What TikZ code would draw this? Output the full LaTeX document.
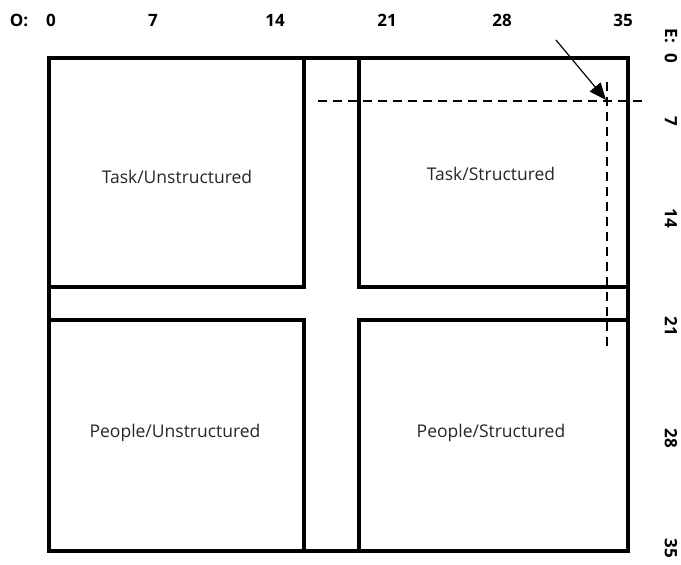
\documentclass[tikz,border=0pt]{standalone}
\usepackage{fontspec}
\setmainfont{Open Sans}
\usetikzlibrary{arrows.meta}
\tikzset{
  frame/.style={line width=4pt, line join=miter},
  quadlabel/.style={font=\fontsize{17.5}{20}\selectfont, text=black!85, inner sep=0pt},
  scalelabel/.style={font=\bfseries\fontsize{17}{20}\selectfont, inner sep=0pt},
  guide/.style={line width=2pt, dash pattern=on 9pt off 6pt},
  pointer/.style={line width=1.2pt, -{Triangle[length=17pt,width=14pt]}}
}
\begin{document}
\begin{tikzpicture}[x=1pt,y=-1pt]
\useasboundingbox (0,0) rectangle (681,565);
% outer frame
\draw[frame] (49,58) rectangle (628,551);
% quadrants
\draw[frame] (49,58) rectangle (304,287);
\draw[frame] (359,58) rectangle (628,287);
\draw[frame] (49,320) rectangle (304,551);
\draw[frame] (359,320) rectangle (628,551);
% quadrant labels
\node[quadlabel] (tu) at (177,177) {Task/Unstructured};
\node[quadlabel] (ts) at (491,174) {Task/Structured};
\node[quadlabel] (pu) at (175,433) {People/Unstructured};
\node[quadlabel] (ps) at (491,433) {People/Structured};
% top scale
\node[scalelabel] (o) at (19,20) {O:};
\node[scalelabel] (o0) at (51,20) {0};
\node[scalelabel] (o7) at (153,20) {7};
\node[scalelabel] (o14) at (275,20) {14};
\node[scalelabel] (o21) at (387,20) {21};
\node[scalelabel] (o28) at (502,20) {28};
\node[scalelabel] (o35) at (623,20) {35};
% right scale
\node[scalelabel, rotate=-90] (e) at (671,36) {E:};
\node[scalelabel, rotate=-90] (e0) at (671,58) {0};
\node[scalelabel, rotate=-90] (e7) at (671,121) {7};
\node[scalelabel, rotate=-90] (e14) at (671,218) {14};
\node[scalelabel, rotate=-90] (e21) at (671,326) {21};
\node[scalelabel, rotate=-90] (e28) at (671,438) {28};
\node[scalelabel, rotate=-90] (e35) at (671,548) {35};
% guides
\coordinate (hl) at (318,101);
\coordinate (hr) at (643,101);
\coordinate (vt) at (607,82);
\coordinate (vb) at (607,346);
\coordinate (tip) at (606,100);
\coordinate (tail) at (556,40);
\draw[guide] (hl) -- (hr);
\draw[guide] (vt) -- (vb);
\draw[pointer] (tail) -- (tip);
\end{tikzpicture}
\end{document}
